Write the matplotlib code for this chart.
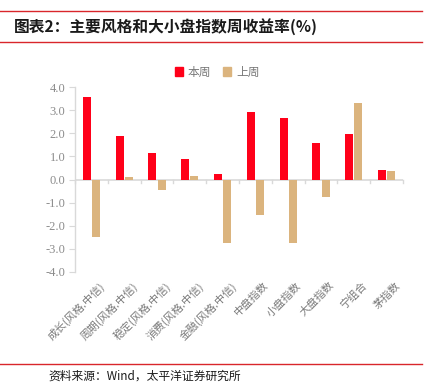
import matplotlib
matplotlib.use("Agg")
import matplotlib.pyplot as plt
from matplotlib.lines import Line2D
from matplotlib.patches import Patch
import numpy as np

categories = ["成长(风格.中信)", "周期(风格.中信)", "稳定(风格.中信)", "消费(风格.中信)",
              "金融(风格.中信)", "中盘指数", "小盘指数", "大盘指数", "宁组合", "茅指数"]
this_week = [3.57, 1.87, 1.15, 0.87, 0.22, 2.92, 2.65, 1.58, 1.96, 0.41]
last_week = [-2.49, 0.12, -0.47, 0.15, -2.76, -1.54, -2.73, -0.77, 3.31, 0.37]
yticks = [4.0, 3.0, 2.0, 1.0, 0.0, -1.0, -2.0, -3.0, -4.0]
title = "图表2：主要风格和大小盘指数周收益率(%)"
source = "资料来源：Wind，太平洋证券研究所"

RED = "#FF0019"
TAN = "#DBB47E"
GRID = "#d9d9d9"
TXT = "#8c8c8c"
CJK = ["Noto Sans CJK SC", "DejaVu Sans"]
SERIF = ["Liberation Serif", "DejaVu Serif"]

W, H = 431, 382
fig = plt.figure(figsize=(W / 100, H / 100), dpi=100)

def fx(px):
    return px / W

def fy(py):
    return 1 - py / H

# decorative red lines
for y in (10.5, 42):
    fig.add_artist(Line2D([0, fx(422)], [fy(y), fy(y)], color="#D9262B", lw=1.0))
fig.add_artist(Line2D([0, fx(422)], [fy(364), fy(364)], color="#D9262B", lw=1.0))

fig.text(fx(14), fy(27), title, family=CJK, fontsize=11.3, fontweight="bold",
         va="center", ha="left", color="#1a1a1a")
fig.text(fx(48), fy(370), source, family=CJK, fontsize=8.5, va="top", ha="left",
         color="#1a1a1a")

ax = fig.add_axes([fx(75), fy(272), fx(403 - 75), fy(87) - fy(272)])
x = np.arange(len(categories))
bw = 0.245
ax.bar(x - 0.14, this_week, width=bw, color=RED, label="本周", zorder=3)
ax.bar(x + 0.14, last_week, width=bw, color=TAN, label="上周", zorder=3)

ax.set_xlim(-0.5, len(categories) - 0.5)
ax.set_ylim(-4.0, 4.0)
ax.set_yticks(yticks)
ax.set_yticklabels([f"{v:.1f}" for v in yticks], family=SERIF, fontsize=9, color=TXT)

for s in ("top", "right", "bottom"):
    ax.spines[s].set_visible(False)
ax.spines["left"].set_color(GRID)
ax.spines["left"].set_linewidth(1.0)
ax.axhline(0, color=GRID, lw=1.2, zorder=2)

ax.tick_params(axis="y", length=4, color=GRID, pad=3)
ax.set_xticks(x)
ax.set_xticklabels([])
ax.tick_params(axis="x", length=0)
for b in np.arange(len(categories) + 1) - 0.5:
    ax.plot([b, b], [0, -0.17], color=GRID, lw=1.0, zorder=2, clip_on=False)

# category labels, rotated
for i, c in enumerate(categories):
    ax.annotate(c, xy=(i + 0.25, -4.0), xycoords="data", xytext=(0, -6),
                textcoords="offset points", rotation=45, ha="right", va="top",
                rotation_mode="anchor", family=CJK, fontsize=7.8, color="#7a7a7a",
                annotation_clip=False)

handles = [Patch(color=RED, label="本周"), Patch(color=TAN, label="上周")]
fig.legend(handles=handles, loc="center", bbox_to_anchor=(fx(217), fy(72)), ncol=2,
           frameon=False, prop={"family": CJK, "size": 8.5}, handlelength=0.7,
           handleheight=0.7, handletextpad=0.4, columnspacing=1.0, labelcolor="#7a7a7a")

fig.savefig("out.png", dpi=100)
